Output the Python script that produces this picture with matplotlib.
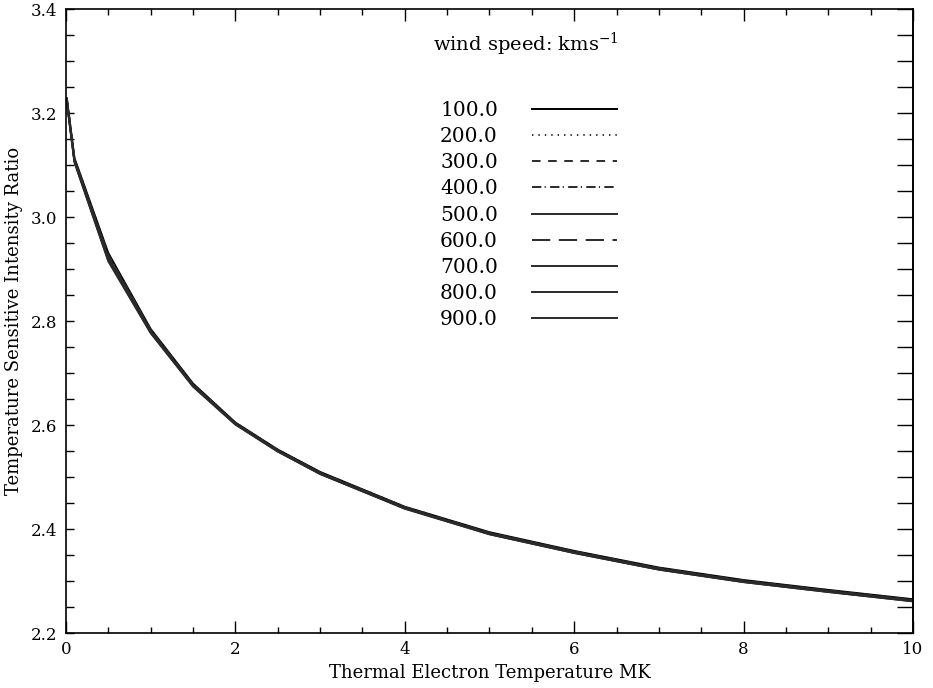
import matplotlib
matplotlib.use('Agg')
from matplotlib import pyplot as plt
from matplotlib.ticker import MultipleLocator

plt.rcParams['font.family'] = ['DejaVu Serif']
plt.rcParams['mathtext.fontset'] = 'dejavuserif'

# thermal electron temperature (MK)
temps = [0.01, 0.1, 0.5, 1.0, 1.5, 2.0, 2.5, 3.0, 4.0, 5.0, 6.0, 7.0, 8.0, 9.0, 10.0]

# wind speeds (km/s)
speeds = ['100.0', '200.0', '300.0', '400.0', '500.0', '600.0', '700.0', '800.0', '900.0']

# temperature sensitive intensity ratio, one row per wind speed
ratio_100 = [3.229, 3.114, 2.931, 2.785, 2.680, 2.605, 2.553, 2.510, 2.443, 2.394, 2.358, 2.326, 2.302, 2.283, 2.265]
ratio_200 = [3.228, 3.113, 2.929, 2.784, 2.679, 2.605, 2.553, 2.509, 2.443, 2.393, 2.357, 2.325, 2.301, 2.282, 2.264]
ratio_300 = [3.228, 3.112, 2.927, 2.783, 2.678, 2.604, 2.552, 2.509, 2.442, 2.393, 2.357, 2.325, 2.301, 2.282, 2.264]
ratio_400 = [3.227, 3.111, 2.925, 2.782, 2.678, 2.604, 2.552, 2.508, 2.442, 2.392, 2.356, 2.324, 2.300, 2.281, 2.263]
ratio_500 = [3.226, 3.110, 2.923, 2.781, 2.677, 2.603, 2.551, 2.508, 2.441, 2.392, 2.356, 2.324, 2.300, 2.281, 2.263]
ratio_600 = [3.225, 3.109, 2.921, 2.780, 2.676, 2.603, 2.551, 2.507, 2.441, 2.391, 2.355, 2.323, 2.299, 2.280, 2.262]
ratio_700 = [3.224, 3.108, 2.919, 2.779, 2.676, 2.602, 2.550, 2.507, 2.440, 2.391, 2.355, 2.323, 2.299, 2.280, 2.262]
ratio_800 = [3.223, 3.107, 2.917, 2.778, 2.675, 2.602, 2.550, 2.506, 2.440, 2.390, 2.354, 2.322, 2.298, 2.279, 2.261]
ratio_900 = [3.222, 3.106, 2.915, 2.777, 2.674, 2.601, 2.549, 2.506, 2.439, 2.390, 2.354, 2.322, 2.298, 2.279, 2.261]

ratios = [ratio_100, ratio_200, ratio_300, ratio_400, ratio_500,
          ratio_600, ratio_700, ratio_800, ratio_900]

styles = ['-', (0, (0.7, 2.6)), (0, (4.4, 3.9)), (0, (4.8, 1.7, 0.6, 2.2)), '-',
          (0, (9.4, 4.4)), '-', '-', '-']
colors = ['black'] + ['#2a2a2a'] * 8

if __name__ == '__main__':
    fig = plt.figure(figsize=(9.33, 6.88), dpi=100)
    ax = fig.add_axes([0.0707, 0.0799, 0.9079, 0.9066])

    for lab, r, ls, c in zip(speeds, ratios, styles, colors):
        ax.plot(temps, r, linestyle=ls, color=c, linewidth=1.4, label=lab)

    ax.set_xlim(0, 10)
    ax.set_ylim(2.2, 3.4)
    ax.xaxis.set_major_locator(MultipleLocator(2))
    ax.xaxis.set_minor_locator(MultipleLocator(0.5))
    ax.yaxis.set_major_locator(MultipleLocator(0.2))
    ax.yaxis.set_minor_locator(MultipleLocator(0.05))
    ax.xaxis.set_major_formatter(plt.FormatStrFormatter('%d'))
    ax.yaxis.set_major_formatter(plt.FormatStrFormatter('%.1f'))

    ax.tick_params(axis='x', which='both', direction='in', top=True, labelsize=12, pad=6)
    ax.tick_params(axis='x', which='major', length=8.6, width=1)
    ax.tick_params(axis='x', which='minor', length=4.3, width=1)
    ax.tick_params(axis='y', which='both', direction='in', right=False, length=5.8,
                   width=1, labelsize=12, pad=6)

    sec = ax.secondary_yaxis('right')
    sec.yaxis.set_major_locator(MultipleLocator(0.2))
    sec.yaxis.set_minor_locator(MultipleLocator(0.05))
    sec.tick_params(which='both', direction='in', length=11.5, width=1, labelright=False)
    sec.spines['right'].set_linewidth(1.2)

    for s in ax.spines.values():
        s.set_linewidth(1.2)

    ax.set_xlabel('Thermal Electron Temperature MK', fontsize=13, labelpad=4)
    ax.set_ylabel('Temperature Sensitive Intensity Ratio', fontsize=13, labelpad=6)

    ax.text(0.433, 0.943, 'wind speed: kms$^{-1}$', transform=ax.transAxes,
            fontsize=14, va='center', ha='left')
    ax.legend(loc='upper left', bbox_to_anchor=(0.4416, 0.853), frameon=False,
              markerfirst=False, fontsize=14.5, handlelength=4.2, handletextpad=1.7,
              labelspacing=0.355, borderpad=0, borderaxespad=0)

    plt.savefig('out.png', dpi=100)
